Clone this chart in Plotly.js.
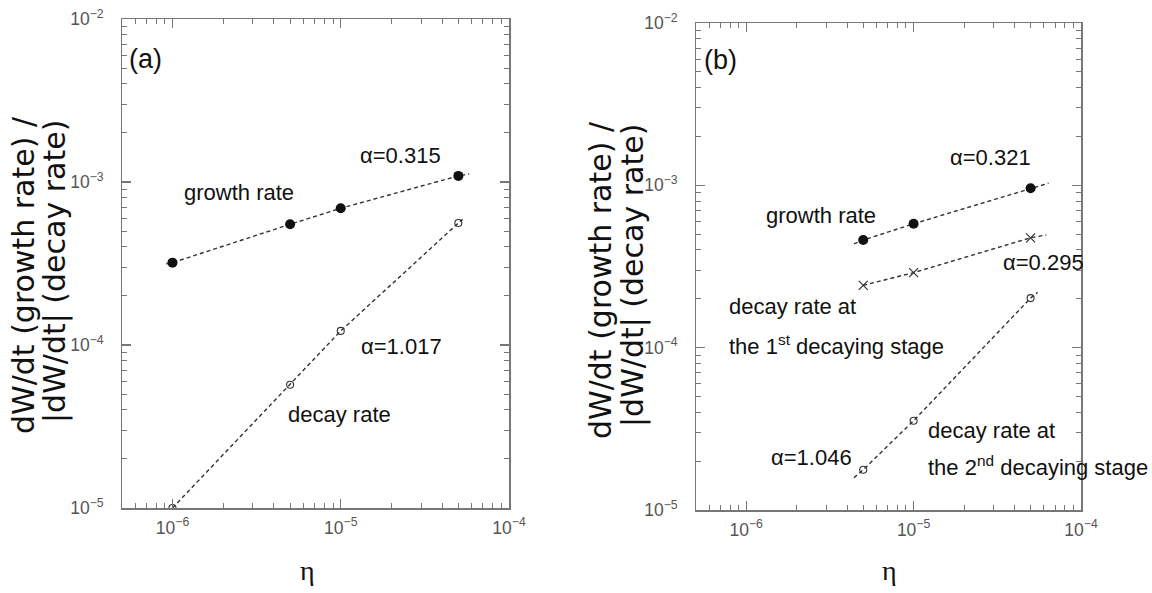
<!DOCTYPE html>
<html><head><meta charset="utf-8">
<script src="https://cdn.plot.ly/plotly-3.0.1.min.js"></script>
<style>html,body{margin:0;padding:0;background:#fff}#chart{width:1152px;height:593px}</style>
</head><body><div id="chart"></div>
<script>
// ---------- Panel (a) data ----------
const etaA = [1e-6, 5e-6, 1e-5, 5e-5];
const growthA = [3.2e-4, 5.5e-4, 6.9e-4, 1.09e-3];
const decayA = [1.0e-5, 5.7e-5, 1.22e-4, 5.6e-4];
// dashed guide lines (with their short end extensions)
const growthLineEtaA = [0.92e-6, 1e-6, 5e-6, 1e-5, 5e-5, 5.8e-5];
const growthLineA = [3.15e-4, 3.2e-4, 5.5e-4, 6.9e-4, 1.09e-3, 1.12e-3];
const decayLineEtaA = [1e-6, 5e-6, 1e-5, 5e-5, 5.3e-5];
const decayLineA = [1.0e-5, 5.7e-5, 1.22e-4, 5.6e-4, 5.9e-4];

// ---------- Panel (b) data ----------
const etaB = [5e-6, 1e-5, 5e-5];
const growthB = [4.6e-4, 5.8e-4, 9.6e-4];
const decay1B = [2.42e-4, 2.9e-4, 4.75e-4];
const decay2B = [1.77e-5, 3.55e-5, 2.02e-4];
const growthLineEtaB = [4.4e-6, 5e-6, 1e-5, 5e-5, 6.4e-5];
const growthLineB = [4.36e-4, 4.6e-4, 5.8e-4, 9.6e-4, 1.03e-3];
const decay1LineEtaB = [5e-6, 1e-5, 5e-5, 6.2e-5];
const decay1LineB = [2.42e-4, 2.9e-4, 4.75e-4, 4.95e-4];
const decay2LineEtaB = [4.4e-6, 5e-6, 1e-5, 5e-5, 5.5e-5];
const decay2LineB = [1.58e-5, 1.77e-5, 3.55e-5, 2.02e-4, 2.19e-4];

// ---------- text ----------
const yTitleLine1 = 'dW/dt (growth rate) /';
const yTitleLine2 = '|dW/dt| (decay rate)';
const xTitle = 'η';

const lineStyle = {color:'#333', width:1.4, dash:'4px,3px'};
const filled = {symbol:'circle', size:10, color:'#111'};
const openC = {symbol:'circle-open', size:7, color:'#333', line:{width:1.1, color:'#333'}};
const cross = {symbol:'x-thin-open', size:9, color:'#333', line:{width:1.2, color:'#333'}};

function L(x, y, xa, ya){return {x:x, y:y, xaxis:xa, yaxis:ya, mode:'lines', line:lineStyle, hoverinfo:'skip'};}
function M(x, y, xa, ya, mk){return {x:x, y:y, xaxis:xa, yaxis:ya, mode:'markers', marker:mk};}

const traces = [
  L(growthLineEtaA, growthLineA, 'x', 'y'),
  L(decayLineEtaA, decayLineA, 'x', 'y'),
  M(etaA, growthA, 'x', 'y', filled),
  M(etaA, decayA, 'x', 'y', openC),
  L(growthLineEtaB, growthLineB, 'x2', 'y2'),
  L(decay1LineEtaB, decay1LineB, 'x2', 'y2'),
  L(decay2LineEtaB, decay2LineB, 'x2', 'y2'),
  M(etaB, growthB, 'x2', 'y2', filled),
  M(etaB, decay1B, 'x2', 'y2', cross),
  M(etaB, decay2B, 'x2', 'y2', openC)
];

const W = 1152, H = 593;
const tickFont = {family:'Liberation Sans Narrow, Liberation Sans, Arial', size:14, color:'#555'};
function ax(extra){
  return Object.assign({
    type:'log', dtick:1, exponentformat:'power', showgrid:false, zeroline:false,
    showline:true, linecolor:'#777', linewidth:1.5, mirror:'ticks',
    ticks:'inside', ticklen:9, tickwidth:1.2, tickcolor:'#777',
    minor:{ticks:'inside', ticklen:5, tickwidth:1, tickcolor:'#777', dtick:'D1', showgrid:false},
    tickfont:tickFont, fixedrange:true, automargin:false
  }, extra);
}
function P(px, py){return {xref:'paper', yref:'paper', x:px/W, y:1-py/H};}
const txtFont = {family:'Liberation Sans, Arial', size:22, color:'#111'};
function A(text, px, py, opts){
  return Object.assign(P(px, py), {text:text, showarrow:false, font:txtFont, xanchor:'center', yanchor:'middle'}, opts||{});
}
const yTitleFont = {family:'DejaVu Sans', size:30, color:'#111'};
const etaFont = {family:'Liberation Serif, Times New Roman', size:28, color:'#111'};

const annotations = [
  A('(a)', 145, 59, {font:Object.assign({}, txtFont, {size:27})}),
  A('α=0.315', 400, 155),
  A('growth rate', 239, 192),
  A('α=1.017', 401, 347),
  A('decay rate', 339, 414),
  A('(b)', 720, 60, {font:Object.assign({}, txtFont, {size:27})}),
  A('α=0.321', 990, 157),
  A('growth rate', 821, 215),
  A('α=0.295', 1043, 262),
  A('decay rate at', 727, 306, {xanchor:'left'}),
  A('the 1<sup>st</sup> decaying stage', 727, 345, {xanchor:'left'}),
  A('α=1.046', 811, 457),
  A('decay rate at', 926, 430, {xanchor:'left'}),
  A('the 2<sup>nd</sup> decaying stage', 926, 466, {xanchor:'left'}),
  // axis titles
  A(yTitleLine1, 23, 275, {textangle:-90, font:yTitleFont}),
  A(yTitleLine2, 55, 272, {textangle:-90, font:yTitleFont}),
  A(yTitleLine1, 601, 280, {textangle:-90, font:yTitleFont}),
  A(yTitleLine2, 633, 276, {textangle:-90, font:yTitleFont}),
  A(xTitle, 307, 570, {font:etaFont}),
  A(xTitle, 889, 570, {font:etaFont})
];

const layout = {
  width:W, height:H, autosize:false,
  margin:{l:0, r:0, t:0, b:0},
  paper_bgcolor:'#fff', plot_bgcolor:'#fff',
  showlegend:false,
  xaxis: ax({domain:[122/W, 509/W], range:[-6.3, -4.0], anchor:'y', ticklabelstandoff:4}),
  yaxis: ax({domain:[1-508/H, 1-19/H], range:[-5, -2], anchor:'x', ticklabelstandoff:14}),
  xaxis2: ax({domain:[696/W, 1081/W], range:[-6.3, -4.0], anchor:'y2', ticklabelstandoff:4}),
  yaxis2: ax({domain:[1-510/H, 1-23/H], range:[-5, -2], anchor:'x2', ticklabelstandoff:14}),
  annotations: annotations
};

Plotly.newPlot('chart', traces, layout, {staticPlot:true, displayModeBar:false});
</script>
</body></html>
